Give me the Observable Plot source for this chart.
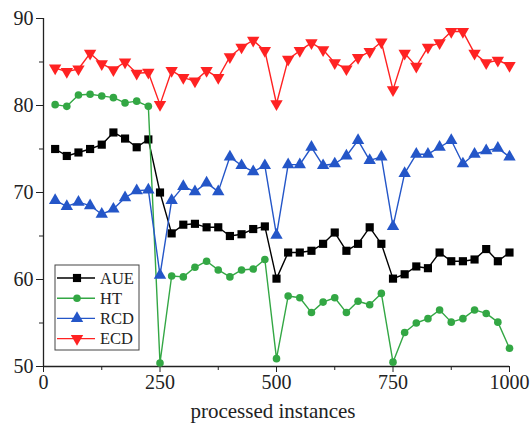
<!DOCTYPE html>
<html>
<head>
<meta charset="utf-8">
<script src="https://cdn.jsdelivr.net/npm/d3@7"></script>
<script src="https://cdn.jsdelivr.net/npm/@observablehq/plot@0.6"></script>
<style>
  html, body { margin: 0; padding: 0; background: #fff; }
  #chart { position: relative; width: 531px; height: 425px; font-family: 'Liberation Serif', serif; }
</style>
</head>
<body>
<div id="chart"></div>
<script>
const instances = [25,50,75,100,125,150,175,200,225,250,275,300,325,350,375,400,425,450,475,500,525,550,575,600,625,650,675,700,725,750,775,800,825,850,875,900,925,950,975,1000];
const AUE = [75.0,74.2,74.6,75.0,75.5,76.9,76.2,75.2,76.1,70.0, 65.3,66.3,66.4,66.0,66.0,65.0,65.2,65.8,66.1,60.1, 63.1,63.1,63.3,64.1,65.4,63.3,64.1,66.0,64.1,60.1, 60.6,61.5,61.3,63.1,62.1,62.1,62.3,63.5,62.1,63.1];
const HT  = [80.1,79.9,81.2,81.3,81.1,80.9,80.3,80.5,79.9,50.4, 60.4,60.3,61.4,62.1,61.1,60.3,61.1,61.2,62.3,50.9, 58.1,57.9,56.2,57.4,57.9,56.2,57.5,57.1,58.4,50.5, 53.9,55.0,55.5,56.5,55.1,55.5,56.5,56.1,55.1,52.1];
const RCD = [69.1,68.4,68.9,68.5,67.5,68.1,69.4,70.2,70.3,60.5, 69.1,70.7,70.1,71.1,70.1,74.1,73.1,72.4,73.1,65.1, 73.2,73.2,75.2,73.1,73.3,74.2,76.0,73.7,74.1,66.1, 72.2,74.4,74.4,75.2,76.0,73.3,74.4,74.8,75.1,74.1];
const ECD = [84.3,83.9,84.2,86.0,84.8,84.1,85.0,83.7,83.8,80.1, 84.0,83.2,82.8,84.0,83.2,85.6,86.7,87.5,86.3,80.2, 85.3,86.3,87.2,86.4,84.9,84.2,85.5,86.2,87.3,81.8, 86.0,84.5,86.7,87.2,88.5,88.5,86.0,84.9,85.2,84.6];

const seriesNames = ["AUE","HT","RCD","ECD"];
const seriesValues = [AUE, HT, RCD, ECD];
const colors = {AUE: "#000000", HT: "#33a744", RCD: "#2456c8", ECD: "#ff2222"};
const symbols = {AUE: "square", HT: "circle", RCD: "triangle", ECD: "triangle"};
const rotations = {AUE: 0, HT: 0, RCD: 0, ECD: 180};
const xTicks = [0,250,500,750,1000];
const xMinor = [125,375,625,875];
const yTicks = [50,60,70,80,90];
const yMinor = [55,65,75,85];

const data = [];
seriesNames.forEach((name, i) => {
  seriesValues[i].forEach((v, j) => data.push({series: name, x: instances[j], y: v}));
});

const font = "'Liberation Serif', serif";

const marks = [
  Plot.axisX({ticks: xTicks, tickSize: 6, tickPadding: 2, tickFormat: d => String(d), label: null, fontSize: 20}),
  Plot.axisX({ticks: xMinor, tickSize: 4, tickFormat: () => "", label: null}),
  Plot.axisY({ticks: yTicks, tickSize: 7, tickPadding: 3, tickFormat: d => String(d), label: null, fontSize: 20}),
  Plot.axisY({ticks: yMinor, tickSize: 4, tickFormat: () => "", label: null}),
  Plot.ruleX([0], {stroke: "#222", strokeWidth: 1.3}),
  Plot.ruleY([50], {stroke: "#222", strokeWidth: 1.3}),
];
seriesNames.forEach(name => {
  const d = data.filter(r => r.series === name);
  marks.push(Plot.line(d, {x: "x", y: "y", stroke: colors[name], strokeWidth: 1.4}));
  marks.push(Plot.dot(d, {x: "x", y: "y", symbol: symbols[name], fill: colors[name], stroke: "none", r: name === "HT" ? 3.8 : 4.6, rotate: rotations[name]}));
});

const chart = Plot.plot({
  width: 531,
  height: 425,
  marginLeft: 43,
  marginRight: 22,
  marginTop: 18,
  marginBottom: 59,
  style: {fontFamily: font, fontSize: "20px", color: "#222", background: "#fff"},
  x: {domain: [0, 1000]},
  y: {domain: [50, 90]},
  marks
});

// x-axis title
d3.select(chart).append("text")
  .attr("x", 273).attr("y", 418)
  .attr("text-anchor", "middle")
  .attr("font-size", 21).attr("fill", "#222")
  .text("processed instances");

// legend
const lg = d3.select(chart).append("g").attr("transform", "translate(55,265)");
lg.append("rect").attr("width", 84).attr("height", 85).attr("fill", "#fff").attr("stroke", "#444").attr("stroke-width", 1);
seriesNames.forEach((name, i) => {
  const y = 13 + i * 20.2;
  lg.append("line").attr("x1", 2).attr("x2", 40).attr("y1", y).attr("y2", y)
    .attr("stroke", colors[name]).attr("stroke-width", 1.4);
  const sym = {square: d3.symbolSquare, circle: d3.symbolCircle, triangle: d3.symbolTriangle}[symbols[name]];
  const area = name === "HT" ? Math.PI * 3.8 * 3.8 : Math.PI * 4.6 * 4.6;
  lg.append("path").attr("d", d3.symbol(sym, area)())
    .attr("transform", `translate(22,${y}) rotate(${rotations[name]})`)
    .attr("fill", colors[name]);
  lg.append("text").attr("x", 45).attr("y", y).attr("dy", "0.35em")
    .attr("text-anchor", "start")
    .attr("font-size", 16.5).attr("fill", "#222")
    .text(name);
});

d3.select(chart).attr("font-family", font);
d3.select(chart).selectAll("text").style("font-family", font);

document.getElementById("chart").appendChild(chart);
</script>
</body>
</html>
